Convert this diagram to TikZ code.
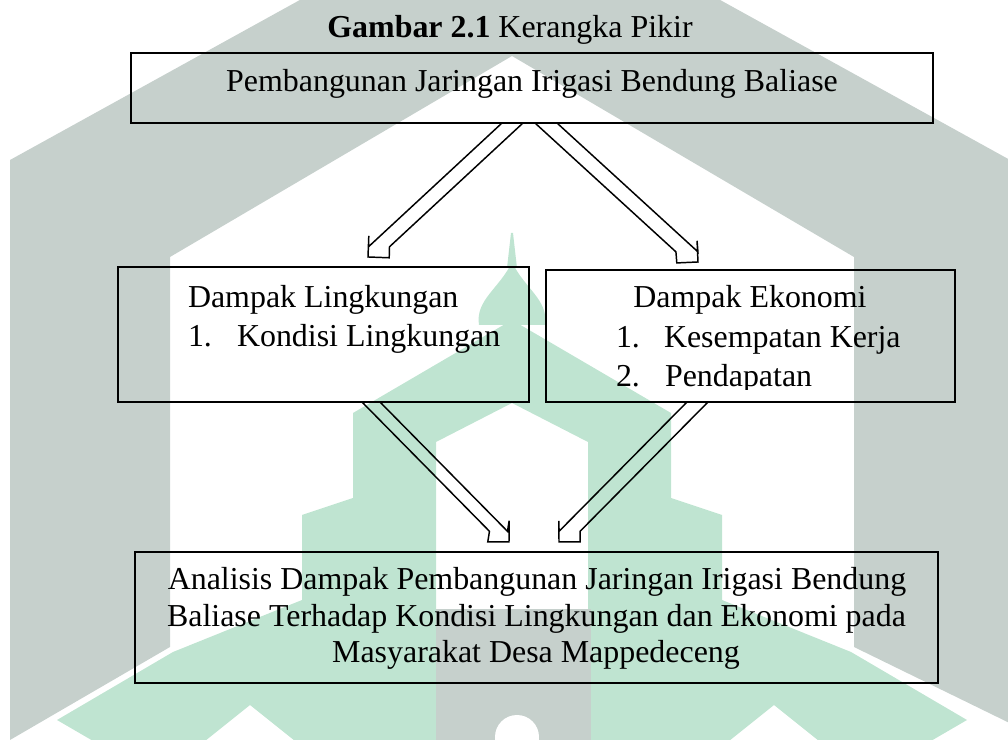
\documentclass[tikz,border=0pt]{standalone}
\usepackage{fontspec}
\setmainfont{Liberation Serif}
\usetikzlibrary{calc}
\definecolor{wmgrey}{HTML}{C6D0CC}
\definecolor{wmgreen}{HTML}{BFE4D1}
\newcommand\hollowarrow[3]{%
  \coordinate (hM) at ($(#1)!0.5!(#2)$);
  \coordinate (hB) at ($(#3)!0.375cm!(hM)$);
  \coordinate (hB1) at ($(#1)+(hB)-(hM)$);
  \coordinate (hB2) at ($(#2)+(hB)-(hM)$);
  \coordinate (hH1) at ($(hB)!0.375cm!-90:(#3)$);
  \coordinate (hH2) at ($(hB)!0.375cm!90:(#3)$);
  \draw[arrowline] (#1) -- (hB1) -- (hH1) -- (#3) -- (hH2) -- (hB2) -- (#2);
}
\tikzset{
  box/.style={draw=black, line width=1.4pt, inner sep=0pt, outer sep=0pt},
  txt/.style={font=\fontsize{22.7}{26}\selectfont, inner sep=0pt, outer sep=0pt},
  arrowline/.style={draw=black, line width=1.05pt, line join=miter}
}
\begin{document}
\begin{tikzpicture}[x=0.025cm, y=-0.025cm]
\useasboundingbox (0,0) rectangle (1008,740);
% watermark
\begin{scope}
\clip (0,0) rectangle (1008,740);
\fill[wmgrey] (10,745) -- (10,160) -- (510,-116) -- (1030,171) -- (1030,733)
  -- (854,647) -- (854,257) -- (512,56) -- (170,257) -- (170,647) -- (10,740) -- cycle;
\fill[wmgreen, even odd rule] (512,320) -- (671,413) -- (671,498) -- (722,515)
  -- (722,745) -- (302,745) -- (302,515) -- (353,498)
  -- (353,413) -- cycle
  (436,442) -- (512,403) -- (588,442) -- (588,612) -- (436,612) -- cycle;
\fill[wmgreen] (57,720) -- (173,652) -- (302,600) -- (302,745) -- (300,745)
  -- (250,705) -- (200,745) -- (100,745) -- cycle;
\fill[wmgreen] (967,720) -- (851,652) -- (722,600) -- (722,745) -- (724,745)
  -- (774,705) -- (824,745) -- (924,745) -- cycle;
\fill[wmgreen] (479,325) .. controls (475,300) and (500,288) .. (512,262)
  .. controls (524,288) and (549,300) .. (545,325) -- cycle;
\fill[wmgreen] (511,233) -- (513,233) -- (517,268) -- (507,268) -- cycle;
\fill[wmgrey] (436,609) rectangle (591,745);
\fill[white] (517,737) circle (22);
\fill[white] (495,737) rectangle (539,745);
\end{scope}
% title
\node[txt, anchor=base] (title) at (510,38) {\textbf{Gambar 2.1} Kerangka Pikir};
% boxes
\node[box, minimum width=20.05cm, minimum height=1.75cm] (top) at (532,88) {};
\node[box, minimum width=10.275cm, minimum height=3.375cm] (lbox) at (323.5,334.5) {};
\node[box, minimum width=10.225cm, minimum height=3.3cm] (rbox) at (750.5,336) {};
\node[box, minimum width=20.075cm, minimum height=3.275cm] (bbox) at (536.5,617.5) {};
% texts
\node[txt, anchor=base] (toptxt) at (532,92) {Pembangunan Jaringan Irigasi Bendung Baliase};
\node[txt, anchor=base west] (l1) at (188,308) {Dampak Lingkungan};
\node[txt, anchor=base west] (l2n) at (188,347) {1.};
\node[txt, anchor=base west] (l2) at (237,347) {Kondisi Lingkungan};
\node[txt, anchor=base] (r1) at (750,308) {Dampak Ekonomi};
\node[txt, anchor=base west] (r2n) at (616,348) {1.};
\node[txt, anchor=base west] (r2) at (664,348) {Kesempatan Kerja};
\begin{scope}
\clip (548,360) rectangle (953,390);
\node[txt, anchor=base west] (r3n) at (616,387) {2.};
\node[txt, anchor=base west] (r3) at (665,387) {Pendapatan};
\end{scope}
\node[txt, anchor=base] (b1) at (537,590) {Analisis Dampak Pembangunan Jaringan Irigasi Bendung};
\node[txt, anchor=base] (b2) at (536.5,627) {Baliase Terhadap Kondisi Lingkungan dan Ekonomi pada};
\node[txt, anchor=base] (b3) at (536,663) {Masyarakat Desa Mappedeceng};
% arrows
\coordinate (a1) at ($(top.south)+(-30,0)$);
\coordinate (a2) at ($(top.south)+(-9,0)$);
\coordinate (at) at ($(lbox.north)+(44.5,-10)$);
\hollowarrow{a1}{a2}{at}
\coordinate (c1) at ($(top.south)+(3,0)$);
\coordinate (c2) at ($(top.south)+(25,0)$);
\coordinate (ct) at ($(rbox.north)+(-52.5,-8)$);
\hollowarrow{c1}{c2}{ct}
\coordinate (e1) at ($(lbox.south)+(38.5,0)$);
\coordinate (e2) at ($(lbox.south)+(56.5,0)$);
\coordinate (et) at ($(bbox.north)+(-27.5,-10)$);
\hollowarrow{e1}{e2}{et}
\coordinate (f1) at ($(rbox.south)+(-63.5,0)$);
\coordinate (f2) at ($(rbox.south)+(-42.5,0)$);
\coordinate (ft) at ($(bbox.north)+(22.5,-10)$);
\hollowarrow{f1}{f2}{ft}
\end{tikzpicture}
\end{document}
